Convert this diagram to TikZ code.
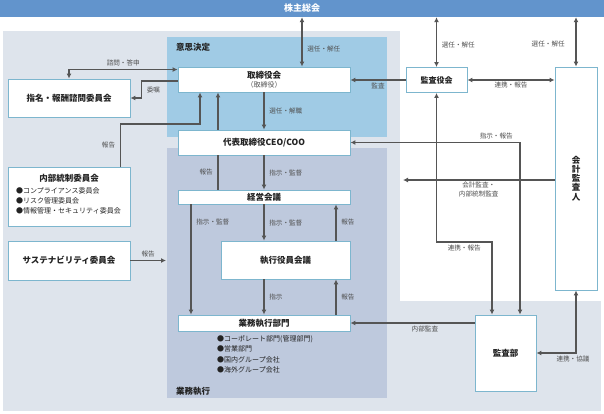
\documentclass[tikz,border=0pt]{standalone}
\usepackage{fontspec}
\setmainfont{Noto Sans CJK JP}
\usepackage{tikz}
\usetikzlibrary{shapes}
\usetikzlibrary{arrows.meta}
\usetikzlibrary{calc}
\definecolor{barblue}{RGB}{98,148,204}
\definecolor{bggray}{RGB}{222,228,236}
\definecolor{ketteiblue}{RGB}{160,203,229}
\definecolor{shikkoublue}{RGB}{190,201,221}
\definecolor{boxline}{RGB}{125,182,206}
\definecolor{arrgray}{RGB}{85,85,85}
\definecolor{txtdark}{RGB}{35,35,35}
\definecolor{lblgray}{RGB}{80,80,80}
\tikzstyle{box}=[
        rectangle,
        draw=boxline,
        line width=0.9pt,
        fill=white,
        inner sep=0pt,
        align=center,
        text=txtdark,
        font=\fontsize{8.5}{10}\selectfont\bfseries
]
\tikzstyle{lbl}=[font=\fontsize{6.6}{7}\selectfont,text=lblgray,inner sep=1.5pt]
\tikzstyle{lst}=[font=\fontsize{7}{10.2}\selectfont,text=txtdark,align=left,inner sep=0pt]
\tikzstyle{area}=[font=\fontsize{8.5}{10}\selectfont\bfseries,text=txtdark,inner sep=0pt]
\tikzstyle{trait}=[line width=1.6pt,draw=arrgray]
\tikzstyle{suite}=[trait,->,>={Latex[length=5pt,width=5pt]}]

\begin{document}
\begin{tikzpicture}[x=1pt,y=-1pt]
\useasboundingbox (0,0) rectangle (604,413);
%Backgrounds
\fill[white] (0,0) rectangle (604,413);
\fill[bggray] (3,31) rectangle (601,411);
\fill[white] (400,17) rectangle (604,301);
\fill[ketteiblue] (167,37) rectangle (387,137);
\fill[shikkoublue] (167,148) rectangle (387,398);
\node[rectangle,fill=barblue,minimum width=604pt,minimum height=17pt,inner sep=0pt,text=white,font=\fontsize{9}{10}\selectfont\bfseries] (soukai) at (302,8.5) {株主総会};
\node[area,anchor=west] (kettei) at (176,47) {意思決定};
\node[area,anchor=west] (shikkoul) at (176,391) {業務執行};
%Nodes
\node[box,minimum width=172pt,minimum height=25pt] (torishimari) at (264,79.5) {取締役会\\[-1.5pt]{\mdseries\color{lblgray}\fontsize{7}{7}\selectfont（取締役）}};
\node[box,minimum width=172pt,minimum height=25pt] (ceo) at (264,142.5) {代表取締役CEO/COO};
\node[box,minimum width=172pt,minimum height=14pt] (keiei) at (264,197) {経営会議};
\node[box,minimum width=129pt,minimum height=38pt] (shikkou) at (285.5,260) {執行役員会議};
\node[box,minimum width=172pt,minimum height=16pt] (gyomu) at (264,323) {業務執行部門};
\node[lst,anchor=north west] (gyomul) at (217,335.5) {●コーポレート部門(管理部門)\\●営業部門\\●国内グループ会社\\●海外グループ会社};
\node[box,minimum width=122pt,minimum height=38pt] (shimei) at (69,98) {指名・報酬諮問委員会};
\node[box,minimum width=122pt,minimum height=59pt] (naibu) at (69,196.5) {};
\node[box,draw=none,fill=none] (naibut) at (69,178) {内部統制委員会};
\node[lst,anchor=north west] (naibul) at (16,187.5) {●コンプライアンス委員会\\●リスク管理委員会\\●情報管理・セキュリティ委員会};
\node[box,minimum width=122pt,minimum height=39pt] (sustain) at (69,260.5) {サステナビリティ委員会};
\node[box,minimum width=61pt,minimum height=25pt,font=\fontsize{8}{10}\selectfont\bfseries] (kansayaku) at (436.5,80) {監査役会};
\node[box,minimum width=42pt,minimum height=223pt,font=\fontsize{8.5}{9.2}\selectfont\bfseries] (kaikei) at (576,178.5) {会\\計\\監\\査\\人};
\node[box,minimum width=61pt,minimum height=76pt] (kansabu) at (505.5,353) {監査部};
\coordinate (hk) at (200,124);
\coordinate (sx) at (166,260.5);
\coordinate (rk) at (492,242);
\coordinate (ka) at (403,180);
%Drawing Edges
\draw[suite,<->] (soukai.south) -- (soukai.south |- torishimari.north) node[lbl,pos=0.65,right,xshift=3pt]{選任・解任};
\draw[suite,<->] (soukai.south -| kansayaku) -- (kansayaku) node[lbl,pos=0.55,right,xshift=3pt]{選任・解任};
\draw[suite,<->] (soukai.south -| kaikei) -- (kaikei) node[lbl,pos=0.55,left,xshift=-9pt]{選任・解任};
\draw[suite] (kansayaku.west) -- (kansayaku.west -| torishimari.east) node[lbl,midway,below,yshift=-1pt]{監査};
\draw[suite,<->] (kansayaku.east) -- (kansayaku.east -| kaikei.west) node[lbl,midway,below]{連携・報告};
\draw[suite,<->] ([yshift=-3pt]torishimari.north west) -| (shimei.north) node[lbl,pos=0.25,above,yshift=1pt]{諮問・答申};
\draw[suite] ([yshift=-1.5pt]torishimari.west) -- ++(-36,0) |- (shimei.east) node[lbl,pos=0.25,right,xshift=3pt]{委嘱};
\draw[suite] ([xshift=-10pt]naibu.north east) |- (hk) node[lbl,pos=0.25,left,xshift=-3pt]{報告} -- (hk |- torishimari.south);
\draw[suite] ([xshift=-46pt]ceo.north) -- ([xshift=-46pt]torishimari.south);
\draw[suite] (torishimari) -- (ceo) node[lbl,midway,right,xshift=3pt]{選任・解職};
\draw[trait] ([xshift=-46pt]keiei.north) -- ([xshift=-46pt]ceo.south) node[lbl,midway,left,xshift=-3pt]{報告};
\draw[suite] (ceo) -- (keiei) node[lbl,midway,right,xshift=3pt]{指示・監督};
\draw[suite] ([xshift=-73pt]keiei.south) -- ([xshift=-73pt]gyomu.north) node[lbl,pos=0.16,right,xshift=3pt]{指示・監督};
\draw[suite] (keiei.south) -- (keiei.south |- shikkou.north) node[lbl,midway,right,xshift=3pt]{指示・監督};
\draw[suite] ([xshift=50.5pt]shikkou.north) -- ([xshift=50.5pt]shikkou.north |- keiei.south) node[lbl,midway,right,xshift=3pt]{報告};
\draw[suite] (shikkou.south -| gyomu.north) -- (gyomu.north) node[lbl,midway,right,xshift=3pt]{指示};
\draw[suite] ([xshift=50.5pt]shikkou.south |- gyomu.north) -- ([xshift=50.5pt]shikkou.south) node[lbl,midway,right,xshift=3pt]{報告};
\draw[suite] (sustain) -- (sx) node[lbl,midway,above,yshift=1pt]{報告};
\draw[suite] (kansabu.west |- gyomu.east) -- (gyomu.east) node[lbl,pos=0.4,below,yshift=-1pt]{内部監査};
\draw[suite,<->] (kansabu.east) -| (kaikei.south) node[lbl,pos=0.5,below,xshift=-3pt,yshift=-1pt]{連携・協議};
\draw[suite,<->] (kansayaku.south) |- (rk) node[lbl,pos=0.75,below,yshift=-1pt]{連携・報告} -- (rk |- kansabu.north);
\draw[suite] (kaikei.west |- ka) -- (ka) node[lbl,midway,below,align=center,font=\fontsize{6.6}{9}\selectfont]{会計監査・\\内部統制監査};
\draw[suite,<->] (ceo.east) -| ([xshift=14.5pt]kansabu.north) node[lbl,pos=0.43,above,yshift=1pt]{指示・報告};
\end{tikzpicture}
\end{document}
